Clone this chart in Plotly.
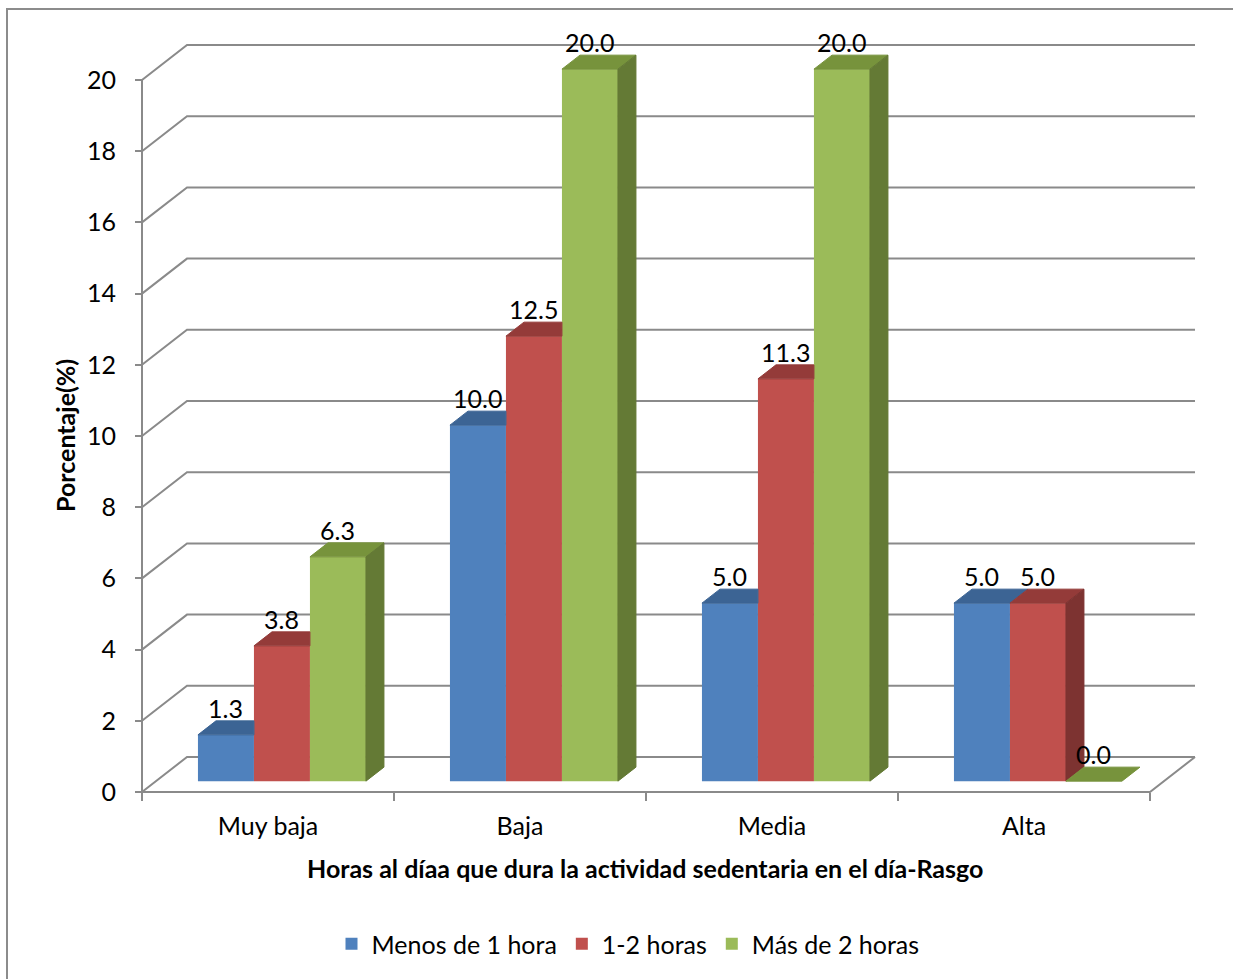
import plotly.graph_objects as go

# ---- data -------------------------------------------------------------
categories = ["Muy baja", "Baja", "Media", "Alta"]
series_names = ["Menos de 1 hora", "1-2 horas", "Más de 2 horas"]
menos_de_1_hora = [1.3, 10.0, 5.0, 5.0]
entre_1_y_2_horas = [3.8, 12.5, 11.3, 5.0]
mas_de_2_horas = [6.3, 20.0, 20.0, 0.0]
y_tick_values = [0, 2, 4, 6, 8, 10, 12, 14, 16, 18, 20]

series_values = [menos_de_1_hora, entre_1_y_2_horas, mas_de_2_horas]

# ---- styles -----------------------------------------------------------
front_colors = ["#4F81BD", "#C0504D", "#9BBB59"]
top_colors = ["#3C6494", "#943B39", "#77933C"]
side_colors = ["#2F4F75", "#7D3331", "#647A35"]
GRID = "#8A8A8A"
FONT = "Lato, 'Open Sans', sans-serif"
TXT = 25
TITLE = 25

# ---- canvas / oblique projection ---------------------------------------
W, H = 1233, 979
ORIGIN_X, ORIGIN_Y = 142, 792       # front-plane origin (category 0, value 0) in pixels
PX_PER_CAT = 252
PX_PER_UNIT = 35.6
WALL_DX = 45 / PX_PER_CAT           # full-depth shift, category units
WALL_DY = 35 / PX_PER_UNIT          # full-depth shift, value units
BAR_Z0, BAR_DEPTH = 0.31, 0.40      # bar slab position inside the depth
GAP = 1 / 6
BAR_W = (1 - 2 * GAP) / 3

x_range = [-ORIGIN_X / PX_PER_CAT, (W - ORIGIN_X) / PX_PER_CAT]
y_range = [-(H - ORIGIN_Y) / PX_PER_UNIT, ORIGIN_Y / PX_PER_UNIT]

n_cat = len(categories)
base = BAR_Z0 * WALL_DY
shift_x = BAR_Z0 * WALL_DX
dxs = BAR_DEPTH * WALL_DX
dys = BAR_DEPTH * WALL_DY


def face(pts, color):
    xs = [p[0] for p in pts] + [pts[0][0]]
    ys = [p[1] for p in pts] + [pts[0][1]]
    return go.Scatter(x=xs, y=ys, mode="lines", fill="toself", fillcolor=color,
                      line=dict(color=color, width=1), hoverinfo="skip",
                      showlegend=False)


fig = go.Figure()
faces = []
annotations = []

for s, (name, vals) in enumerate(zip(series_names, series_values)):
    lefts = [i + GAP + s * BAR_W + shift_x for i in range(n_cat)]
    fig.add_trace(go.Bar(
        x=[l + BAR_W / 2 for l in lefts], y=vals, base=base, width=BAR_W,
        name=name, marker=dict(color=front_colors[s], line=dict(width=0)),
        hoverinfo="skip"))
    for i, h in enumerate(vals):
        fx = lefts[i]
        nxt = series_values[s + 1][i] if s + 1 < len(series_values) else None
        top = base + h
        # top face, trimmed where the neighbour on the right hides it
        if nxt is None or nxt <= h:
            pts = [(fx, top), (fx + BAR_W, top), (fx + BAR_W + dxs, top + dys), (fx + dxs, top + dys)]
        elif nxt < h + dys:
            t = 1 - (nxt - h) / dys
            pts = [(fx, top), (fx + BAR_W, top), (fx + BAR_W, base + nxt),
                   (fx + BAR_W + t * dxs, top + dys), (fx + dxs, top + dys)]
        else:
            pts = [(fx, top), (fx + BAR_W, top), (fx + BAR_W, top + dys), (fx + dxs, top + dys)]
        faces.append(face(pts, top_colors[s]))
        # right side face, only the part above the neighbour
        low = 0 if nxt is None else nxt
        if low < h:
            pts = [(fx + BAR_W, base + low), (fx + BAR_W + dxs, base + low + dys),
                   (fx + BAR_W + dxs, top + dys), (fx + BAR_W, top)]
            faces.append(face(pts, side_colors[s]))
        annotations.append(dict(
            x=fx + BAR_W / 2, y=top + dys, xref="x", yref="y", text=f"{h:.1f}",
            showarrow=False, xanchor="center", yanchor="bottom", yshift=-4,
            font=dict(family=FONT, size=TXT, color="black")))

for f in faces:
    fig.add_trace(f)

# ---- walls, floor and axis line -----------------------------------------
shapes = []
line_style = dict(color=GRID, width=2)
for v in y_tick_values:
    shapes.append(dict(
        type="path", xref="x", yref="y", layer="below", line=line_style,
        path=f"M 0,{v} L {WALL_DX},{v + WALL_DY} L {n_cat + WALL_DX},{v + WALL_DY}"))
shapes.append(dict(
    type="path", xref="x", yref="y", layer="below", line=line_style,
    path=f"M 0,{y_tick_values[0]} L {n_cat},{y_tick_values[0]} "
         f"L {n_cat + WALL_DX},{y_tick_values[0] + WALL_DY}"))
shapes.append(dict(
    type="path", xref="x", yref="y", layer="below", line=line_style,
    path=f"M 0,{y_tick_values[0]} L 0,{y_tick_values[-1]}"))
# chart frame
shapes.append(dict(
    type="path", xref="paper", yref="paper", layer="below",
    line=dict(color="#8C8C8C", width=2),
    path=f"M {7 / W},0 L {7 / W},{1 - 9 / H} L 1,{1 - 9 / H}"))

# ---- axis titles ----------------------------------------------------------
annotations.append(dict(
    x=65 / W, y=1 - 436 / H, xref="paper", yref="paper", text="<b>Porcentaje(%)</b>",
    textangle=-90, showarrow=False, xanchor="center", yanchor="middle",
    font=dict(family=FONT, size=TITLE, color="black")))
annotations.append(dict(
    x=645 / W, y=1 - 868 / H, xref="paper", yref="paper",
    text="<b>Horas al díaa que dura la actividad sedentaria en el día-Rasgo</b>",
    showarrow=False, xanchor="center", yanchor="middle",
    font=dict(family=FONT, size=TITLE, color="black")))

fig.update_layout(
    width=W, height=H, margin=dict(l=0, r=0, t=0, b=0),
    paper_bgcolor="white", plot_bgcolor="white",
    barmode="overlay", shapes=shapes, annotations=annotations,
    font=dict(family=FONT, size=TXT, color="black"),
    showlegend=True,
    legend=dict(orientation="h", x=628 / W, xanchor="center", y=(H - 944) / H,
                yanchor="middle", font=dict(family=FONT, size=TXT, color="black"),
                bgcolor="rgba(0,0,0,0)", traceorder="normal"),
    xaxis=dict(range=x_range, domain=[0, 1], anchor="free", position=(H - ORIGIN_Y) / H,
               tickmode="array", tickvals=[i + 0.5 for i in range(n_cat)], ticktext=categories,
               ticks="", showgrid=False, zeroline=False, showline=False,
               tickfont=dict(family=FONT, size=TXT, color="black"), ticklabelstandoff=17,
               minor=dict(tickmode="array", tickvals=list(range(n_cat + 1)), ticks="outside",
                          ticklen=8, tickwidth=2, tickcolor=GRID, showgrid=False),
               fixedrange=True),
    yaxis=dict(range=y_range, domain=[0, 1], anchor="free", position=ORIGIN_X / W,
               tickmode="array", tickvals=y_tick_values, ticks="outside", ticklen=7,
               tickwidth=2, tickcolor=GRID, showgrid=False, zeroline=False, showline=False,
               tickfont=dict(family=FONT, size=TXT, color="black"), ticklabelstandoff=14,
               fixedrange=True),
)

fig.write_html("out.html")
